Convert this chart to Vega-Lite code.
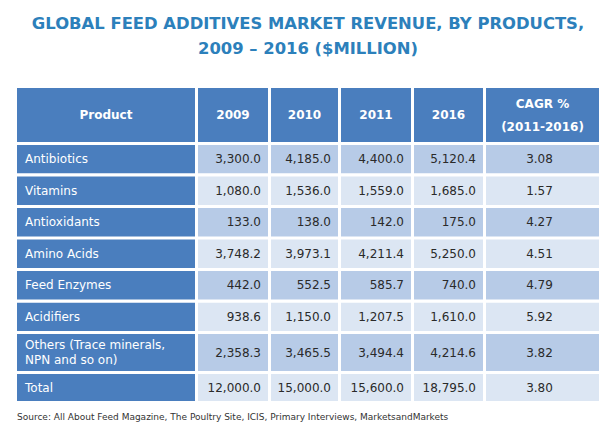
{
  "$schema": "https://vega.github.io/schema/vega-lite/v6.json",
  "background": "white",
  "padding": {"left": 17, "right": 10, "top": 15, "bottom": 0},
  "title": {
    "text": ["GLOBAL FEED ADDITIVES MARKET REVENUE, BY PRODUCTS,", "2009 – 2016 ($MILLION)"],
    "anchor": "middle",
    "font": "DejaVu Sans",
    "fontSize": 16.4,
    "fontWeight": "bold",
    "color": "#2c80bb",
    "lineHeight": 25,
    "offset": 31
  },
  "config": {
    "view": {"stroke": null},
    "text": {"font": "DejaVu Sans", "fontSize": 12, "lineBreak": "\n", "lineHeight": 15}
  },
  "datasets": {
    "tbl": [
      {"product": "Antibiotics", "y2009": 3300.0, "y2010": 4185.0, "y2011": 4400.0, "y2016": 5120.4, "cagr": 3.08},
      {"product": "Vitamins", "y2009": 1080.0, "y2010": 1536.0, "y2011": 1559.0, "y2016": 1685.0, "cagr": 1.57},
      {"product": "Antioxidants", "y2009": 133.0, "y2010": 138.0, "y2011": 142.0, "y2016": 175.0, "cagr": 4.27},
      {"product": "Amino Acids", "y2009": 3748.2, "y2010": 3973.1, "y2011": 4211.4, "y2016": 5250.0, "cagr": 4.51},
      {"product": "Feed Enzymes", "y2009": 442.0, "y2010": 552.5, "y2011": 585.7, "y2016": 740.0, "cagr": 4.79},
      {"product": "Acidifiers", "y2009": 938.6, "y2010": 1150.0, "y2011": 1207.5, "y2016": 1610.0, "cagr": 5.92},
      {"product": "Others (Trace minerals,\nNPN and so on)", "y2009": 2358.3, "y2010": 3465.5, "y2011": 3494.4, "y2016": 4214.6, "cagr": 3.82},
      {"product": "Total", "y2009": 12000.0, "y2010": 15000.0, "y2011": 15600.0, "y2016": 18795.0, "cagr": 3.80}
    ]
  },
  "spacing": 3,
  "resolve": {"scale": {"x": "independent", "y": "independent"}},
  "vconcat": [
    {
      "spacing": 3,
      "resolve": {"scale": {"x": "independent", "y": "independent"}},
      "hconcat": [
        {"width": 178, "height": 54, "data": {"values": [{"h": "Product"}]},
         "layer": [
           {"mark": {"type": "rect", "color": "#4a7ebe"}, "encoding": {}},
           {"mark": {"type": "text", "color": "white", "fontWeight": "bold"}, "encoding": {"text": {"field": "h"}}}
         ]},
        {"width": 70, "height": 54, "data": {"values": [{"h": "2009"}]},
         "layer": [
           {"mark": {"type": "rect", "color": "#4a7ebe"}, "encoding": {}},
           {"mark": {"type": "text", "color": "white", "fontWeight": "bold"}, "encoding": {"text": {"field": "h"}}}
         ]},
        {"width": 67, "height": 54, "data": {"values": [{"h": "2010"}]},
         "layer": [
           {"mark": {"type": "rect", "color": "#4a7ebe"}, "encoding": {}},
           {"mark": {"type": "text", "color": "white", "fontWeight": "bold"}, "encoding": {"text": {"field": "h"}}}
         ]},
        {"width": 70, "height": 54, "data": {"values": [{"h": "2011"}]},
         "layer": [
           {"mark": {"type": "rect", "color": "#4a7ebe"}, "encoding": {}},
           {"mark": {"type": "text", "color": "white", "fontWeight": "bold"}, "encoding": {"text": {"field": "h"}}}
         ]},
        {"width": 69, "height": 54, "data": {"values": [{"h": "2016"}]},
         "layer": [
           {"mark": {"type": "rect", "color": "#4a7ebe"}, "encoding": {}},
           {"mark": {"type": "text", "color": "white", "fontWeight": "bold"}, "encoding": {"text": {"field": "h"}}}
         ]},
        {"width": 113, "height": 54, "data": {"values": [{"h": "CAGR %\n(2011-2016)"}]},
         "layer": [
           {"mark": {"type": "rect", "color": "#4a7ebe"}, "encoding": {}},
           {"mark": {"type": "text", "color": "white", "fontWeight": "bold", "lineHeight": 23, "dy": -11.5}, "encoding": {"text": {"field": "h"}}}
         ]}
      ]
    },
    {
      "spacing": 3,
      "resolve": {"scale": {"x": "independent", "y": "independent"}},
      "hconcat": [
        {"width": 178, "height": 186, "data": {"name": "tbl"}, "transform": [{"filter": "datum.product != 'Total' && indexof(datum.product, 'Others') != 0"}],
         "encoding": {"y": {"field": "product", "type": "nominal", "sort": null, "axis": null, "scale": {"paddingInner": 0.1, "paddingOuter": 0}}},
         "layer": [
           {"mark": {"type": "rect", "color": "#4a7ebe"}, "encoding": {"x": {"datum": 0, "type": "quantitative", "scale": {"domain": [0, 1]}, "axis": null}, "x2": {"datum": 1}}},
           {"mark": {"type": "text", "align": "left", "dx": 8, "color": "white"}, "encoding": {"x": {"datum": 0, "type": "quantitative", "scale": {"domain": [0, 1]}, "axis": null}, "text": {"field": "product"}}}
         ]},
        {"width": 70, "height": 186, "data": {"name": "tbl"}, "transform": [{"filter": "datum.product != 'Total' && indexof(datum.product, 'Others') != 0"}],
         "encoding": {"y": {"field": "product", "type": "nominal", "sort": null, "axis": null, "scale": {"paddingInner": 0.1, "paddingOuter": 0}}},
         "layer": [
           {"mark": {"type": "rect"}, "encoding": {"x": {"datum": 0, "type": "quantitative", "scale": {"domain": [0, 1]}, "axis": null}, "x2": {"datum": 1}, "color": {"field": "product", "type": "nominal", "legend": null, "scale": {"domain": ["Antibiotics", "Vitamins", "Antioxidants", "Amino Acids", "Feed Enzymes", "Acidifiers", "Others (Trace minerals,\nNPN and so on)", "Total"], "range": ["#b7cbe7", "#dce6f3", "#b7cbe7", "#dce6f3", "#b7cbe7", "#dce6f3", "#b7cbe7", "#dce6f3"]}}}},
           {"mark": {"type": "text", "align": "right", "dx": -7, "color": "#2a2a2a"}, "encoding": {"x": {"datum": 1, "type": "quantitative", "scale": {"domain": [0, 1]}, "axis": null}, "text": {"field": "y2009", "type": "quantitative", "format": ",.1f"}}}
         ]},
        {"width": 67, "height": 186, "data": {"name": "tbl"}, "transform": [{"filter": "datum.product != 'Total' && indexof(datum.product, 'Others') != 0"}],
         "encoding": {"y": {"field": "product", "type": "nominal", "sort": null, "axis": null, "scale": {"paddingInner": 0.1, "paddingOuter": 0}}},
         "layer": [
           {"mark": {"type": "rect"}, "encoding": {"x": {"datum": 0, "type": "quantitative", "scale": {"domain": [0, 1]}, "axis": null}, "x2": {"datum": 1}, "color": {"field": "product", "type": "nominal", "legend": null}}},
           {"mark": {"type": "text", "align": "right", "dx": -7, "color": "#2a2a2a"}, "encoding": {"x": {"datum": 1, "type": "quantitative", "scale": {"domain": [0, 1]}, "axis": null}, "text": {"field": "y2010", "type": "quantitative", "format": ",.1f"}}}
         ]},
        {"width": 70, "height": 186, "data": {"name": "tbl"}, "transform": [{"filter": "datum.product != 'Total' && indexof(datum.product, 'Others') != 0"}],
         "encoding": {"y": {"field": "product", "type": "nominal", "sort": null, "axis": null, "scale": {"paddingInner": 0.1, "paddingOuter": 0}}},
         "layer": [
           {"mark": {"type": "rect"}, "encoding": {"x": {"datum": 0, "type": "quantitative", "scale": {"domain": [0, 1]}, "axis": null}, "x2": {"datum": 1}, "color": {"field": "product", "type": "nominal", "legend": null}}},
           {"mark": {"type": "text", "align": "right", "dx": -7, "color": "#2a2a2a"}, "encoding": {"x": {"datum": 1, "type": "quantitative", "scale": {"domain": [0, 1]}, "axis": null}, "text": {"field": "y2011", "type": "quantitative", "format": ",.1f"}}}
         ]},
        {"width": 69, "height": 186, "data": {"name": "tbl"}, "transform": [{"filter": "datum.product != 'Total' && indexof(datum.product, 'Others') != 0"}],
         "encoding": {"y": {"field": "product", "type": "nominal", "sort": null, "axis": null, "scale": {"paddingInner": 0.1, "paddingOuter": 0}}},
         "layer": [
           {"mark": {"type": "rect"}, "encoding": {"x": {"datum": 0, "type": "quantitative", "scale": {"domain": [0, 1]}, "axis": null}, "x2": {"datum": 1}, "color": {"field": "product", "type": "nominal", "legend": null}}},
           {"mark": {"type": "text", "align": "right", "dx": -7, "color": "#2a2a2a"}, "encoding": {"x": {"datum": 1, "type": "quantitative", "scale": {"domain": [0, 1]}, "axis": null}, "text": {"field": "y2016", "type": "quantitative", "format": ",.1f"}}}
         ]},
        {"width": 113, "height": 186, "data": {"name": "tbl"}, "transform": [{"filter": "datum.product != 'Total' && indexof(datum.product, 'Others') != 0"}],
         "encoding": {"y": {"field": "product", "type": "nominal", "sort": null, "axis": null, "scale": {"paddingInner": 0.1, "paddingOuter": 0}}},
         "layer": [
           {"mark": {"type": "rect"}, "encoding": {"x": {"datum": 0, "type": "quantitative", "scale": {"domain": [0, 1]}, "axis": null}, "x2": {"datum": 1}, "color": {"field": "product", "type": "nominal", "legend": null}}},
           {"mark": {"type": "text", "align": "center", "dx": -3, "color": "#2a2a2a"}, "encoding": {"x": {"datum": 0.5, "type": "quantitative", "scale": {"domain": [0, 1]}, "axis": null}, "text": {"field": "cagr", "type": "quantitative", "format": ".2f"}}}
         ]}
      ]
    },
    {
      "spacing": 3,
      "resolve": {"scale": {"x": "independent", "y": "independent"}},
      "hconcat": [
        {"width": 178, "height": 37, "data": {"name": "tbl"}, "transform": [{"filter": "indexof(datum.product, 'Others') == 0"}],
         "encoding": {"y": {"field": "product", "type": "nominal", "sort": null, "axis": null, "scale": {"paddingInner": 0.1, "paddingOuter": 0}}},
         "layer": [
           {"mark": {"type": "rect", "color": "#4a7ebe"}, "encoding": {"x": {"datum": 0, "type": "quantitative", "scale": {"domain": [0, 1]}, "axis": null}, "x2": {"datum": 1}}},
           {"mark": {"type": "text", "align": "left", "dx": 8, "dy": -7.5, "color": "white"}, "encoding": {"x": {"datum": 0, "type": "quantitative", "scale": {"domain": [0, 1]}, "axis": null}, "text": {"field": "product"}}}
         ]},
        {"width": 70, "height": 37, "data": {"name": "tbl"}, "transform": [{"filter": "indexof(datum.product, 'Others') == 0"}],
         "encoding": {"y": {"field": "product", "type": "nominal", "sort": null, "axis": null, "scale": {"paddingInner": 0.1, "paddingOuter": 0}}},
         "layer": [
           {"mark": {"type": "rect"}, "encoding": {"x": {"datum": 0, "type": "quantitative", "scale": {"domain": [0, 1]}, "axis": null}, "x2": {"datum": 1}, "color": {"field": "product", "type": "nominal", "legend": null}}},
           {"mark": {"type": "text", "align": "right", "dx": -7, "color": "#2a2a2a"}, "encoding": {"x": {"datum": 1, "type": "quantitative", "scale": {"domain": [0, 1]}, "axis": null}, "text": {"field": "y2009", "type": "quantitative", "format": ",.1f"}}}
         ]},
        {"width": 67, "height": 37, "data": {"name": "tbl"}, "transform": [{"filter": "indexof(datum.product, 'Others') == 0"}],
         "encoding": {"y": {"field": "product", "type": "nominal", "sort": null, "axis": null, "scale": {"paddingInner": 0.1, "paddingOuter": 0}}},
         "layer": [
           {"mark": {"type": "rect"}, "encoding": {"x": {"datum": 0, "type": "quantitative", "scale": {"domain": [0, 1]}, "axis": null}, "x2": {"datum": 1}, "color": {"field": "product", "type": "nominal", "legend": null}}},
           {"mark": {"type": "text", "align": "right", "dx": -7, "color": "#2a2a2a"}, "encoding": {"x": {"datum": 1, "type": "quantitative", "scale": {"domain": [0, 1]}, "axis": null}, "text": {"field": "y2010", "type": "quantitative", "format": ",.1f"}}}
         ]},
        {"width": 70, "height": 37, "data": {"name": "tbl"}, "transform": [{"filter": "indexof(datum.product, 'Others') == 0"}],
         "encoding": {"y": {"field": "product", "type": "nominal", "sort": null, "axis": null, "scale": {"paddingInner": 0.1, "paddingOuter": 0}}},
         "layer": [
           {"mark": {"type": "rect"}, "encoding": {"x": {"datum": 0, "type": "quantitative", "scale": {"domain": [0, 1]}, "axis": null}, "x2": {"datum": 1}, "color": {"field": "product", "type": "nominal", "legend": null}}},
           {"mark": {"type": "text", "align": "right", "dx": -7, "color": "#2a2a2a"}, "encoding": {"x": {"datum": 1, "type": "quantitative", "scale": {"domain": [0, 1]}, "axis": null}, "text": {"field": "y2011", "type": "quantitative", "format": ",.1f"}}}
         ]},
        {"width": 69, "height": 37, "data": {"name": "tbl"}, "transform": [{"filter": "indexof(datum.product, 'Others') == 0"}],
         "encoding": {"y": {"field": "product", "type": "nominal", "sort": null, "axis": null, "scale": {"paddingInner": 0.1, "paddingOuter": 0}}},
         "layer": [
           {"mark": {"type": "rect"}, "encoding": {"x": {"datum": 0, "type": "quantitative", "scale": {"domain": [0, 1]}, "axis": null}, "x2": {"datum": 1}, "color": {"field": "product", "type": "nominal", "legend": null}}},
           {"mark": {"type": "text", "align": "right", "dx": -7, "color": "#2a2a2a"}, "encoding": {"x": {"datum": 1, "type": "quantitative", "scale": {"domain": [0, 1]}, "axis": null}, "text": {"field": "y2016", "type": "quantitative", "format": ",.1f"}}}
         ]},
        {"width": 113, "height": 37, "data": {"name": "tbl"}, "transform": [{"filter": "indexof(datum.product, 'Others') == 0"}],
         "encoding": {"y": {"field": "product", "type": "nominal", "sort": null, "axis": null, "scale": {"paddingInner": 0.1, "paddingOuter": 0}}},
         "layer": [
           {"mark": {"type": "rect"}, "encoding": {"x": {"datum": 0, "type": "quantitative", "scale": {"domain": [0, 1]}, "axis": null}, "x2": {"datum": 1}, "color": {"field": "product", "type": "nominal", "legend": null}}},
           {"mark": {"type": "text", "align": "center", "dx": -3, "color": "#2a2a2a"}, "encoding": {"x": {"datum": 0.5, "type": "quantitative", "scale": {"domain": [0, 1]}, "axis": null}, "text": {"field": "cagr", "type": "quantitative", "format": ".2f"}}}
         ]}
      ]
    },
    {
      "spacing": 3,
      "resolve": {"scale": {"x": "independent", "y": "independent"}},
      "hconcat": [
        {"width": 178, "height": 27, "data": {"name": "tbl"}, "transform": [{"filter": "datum.product == 'Total'"}],
         "encoding": {"y": {"field": "product", "type": "nominal", "sort": null, "axis": null, "scale": {"paddingInner": 0.1, "paddingOuter": 0}}},
         "layer": [
           {"mark": {"type": "rect", "color": "#4a7ebe"}, "encoding": {"x": {"datum": 0, "type": "quantitative", "scale": {"domain": [0, 1]}, "axis": null}, "x2": {"datum": 1}}},
           {"mark": {"type": "text", "align": "left", "dx": 8, "color": "white"}, "encoding": {"x": {"datum": 0, "type": "quantitative", "scale": {"domain": [0, 1]}, "axis": null}, "text": {"field": "product"}}}
         ]},
        {"width": 70, "height": 27, "data": {"name": "tbl"}, "transform": [{"filter": "datum.product == 'Total'"}],
         "encoding": {"y": {"field": "product", "type": "nominal", "sort": null, "axis": null, "scale": {"paddingInner": 0.1, "paddingOuter": 0}}},
         "layer": [
           {"mark": {"type": "rect"}, "encoding": {"x": {"datum": 0, "type": "quantitative", "scale": {"domain": [0, 1]}, "axis": null}, "x2": {"datum": 1}, "color": {"field": "product", "type": "nominal", "legend": null}}},
           {"mark": {"type": "text", "align": "right", "dx": -7, "color": "#2a2a2a"}, "encoding": {"x": {"datum": 1, "type": "quantitative", "scale": {"domain": [0, 1]}, "axis": null}, "text": {"field": "y2009", "type": "quantitative", "format": ",.1f"}}}
         ]},
        {"width": 67, "height": 27, "data": {"name": "tbl"}, "transform": [{"filter": "datum.product == 'Total'"}],
         "encoding": {"y": {"field": "product", "type": "nominal", "sort": null, "axis": null, "scale": {"paddingInner": 0.1, "paddingOuter": 0}}},
         "layer": [
           {"mark": {"type": "rect"}, "encoding": {"x": {"datum": 0, "type": "quantitative", "scale": {"domain": [0, 1]}, "axis": null}, "x2": {"datum": 1}, "color": {"field": "product", "type": "nominal", "legend": null}}},
           {"mark": {"type": "text", "align": "right", "dx": -7, "color": "#2a2a2a"}, "encoding": {"x": {"datum": 1, "type": "quantitative", "scale": {"domain": [0, 1]}, "axis": null}, "text": {"field": "y2010", "type": "quantitative", "format": ",.1f"}}}
         ]},
        {"width": 70, "height": 27, "data": {"name": "tbl"}, "transform": [{"filter": "datum.product == 'Total'"}],
         "encoding": {"y": {"field": "product", "type": "nominal", "sort": null, "axis": null, "scale": {"paddingInner": 0.1, "paddingOuter": 0}}},
         "layer": [
           {"mark": {"type": "rect"}, "encoding": {"x": {"datum": 0, "type": "quantitative", "scale": {"domain": [0, 1]}, "axis": null}, "x2": {"datum": 1}, "color": {"field": "product", "type": "nominal", "legend": null}}},
           {"mark": {"type": "text", "align": "right", "dx": -7, "color": "#2a2a2a"}, "encoding": {"x": {"datum": 1, "type": "quantitative", "scale": {"domain": [0, 1]}, "axis": null}, "text": {"field": "y2011", "type": "quantitative", "format": ",.1f"}}}
         ]},
        {"width": 69, "height": 27, "data": {"name": "tbl"}, "transform": [{"filter": "datum.product == 'Total'"}],
         "encoding": {"y": {"field": "product", "type": "nominal", "sort": null, "axis": null, "scale": {"paddingInner": 0.1, "paddingOuter": 0}}},
         "layer": [
           {"mark": {"type": "rect"}, "encoding": {"x": {"datum": 0, "type": "quantitative", "scale": {"domain": [0, 1]}, "axis": null}, "x2": {"datum": 1}, "color": {"field": "product", "type": "nominal", "legend": null}}},
           {"mark": {"type": "text", "align": "right", "dx": -7, "color": "#2a2a2a"}, "encoding": {"x": {"datum": 1, "type": "quantitative", "scale": {"domain": [0, 1]}, "axis": null}, "text": {"field": "y2016", "type": "quantitative", "format": ",.1f"}}}
         ]},
        {"width": 113, "height": 27, "data": {"name": "tbl"}, "transform": [{"filter": "datum.product == 'Total'"}],
         "encoding": {"y": {"field": "product", "type": "nominal", "sort": null, "axis": null, "scale": {"paddingInner": 0.1, "paddingOuter": 0}}},
         "layer": [
           {"mark": {"type": "rect"}, "encoding": {"x": {"datum": 0, "type": "quantitative", "scale": {"domain": [0, 1]}, "axis": null}, "x2": {"datum": 1}, "color": {"field": "product", "type": "nominal", "legend": null}}},
           {"mark": {"type": "text", "align": "center", "dx": -3, "color": "#2a2a2a"}, "encoding": {"x": {"datum": 0.5, "type": "quantitative", "scale": {"domain": [0, 1]}, "axis": null}, "text": {"field": "cagr", "type": "quantitative", "format": ".2f"}}}
         ]}
      ]
    },
    {
      "width": 582, "height": 26,
      "data": {"values": [{"s": "Source: All About Feed Magazine, The Poultry Site, ICIS, Primary Interviews, MarketsandMarkets"}]},
      "mark": {"type": "text", "align": "left", "fontSize": 9, "color": "#333333"},
      "encoding": {"x": {"datum": 0, "type": "quantitative", "scale": {"domain": [0, 1]}, "axis": null}, "text": {"field": "s"}}
    }
  ]
}
